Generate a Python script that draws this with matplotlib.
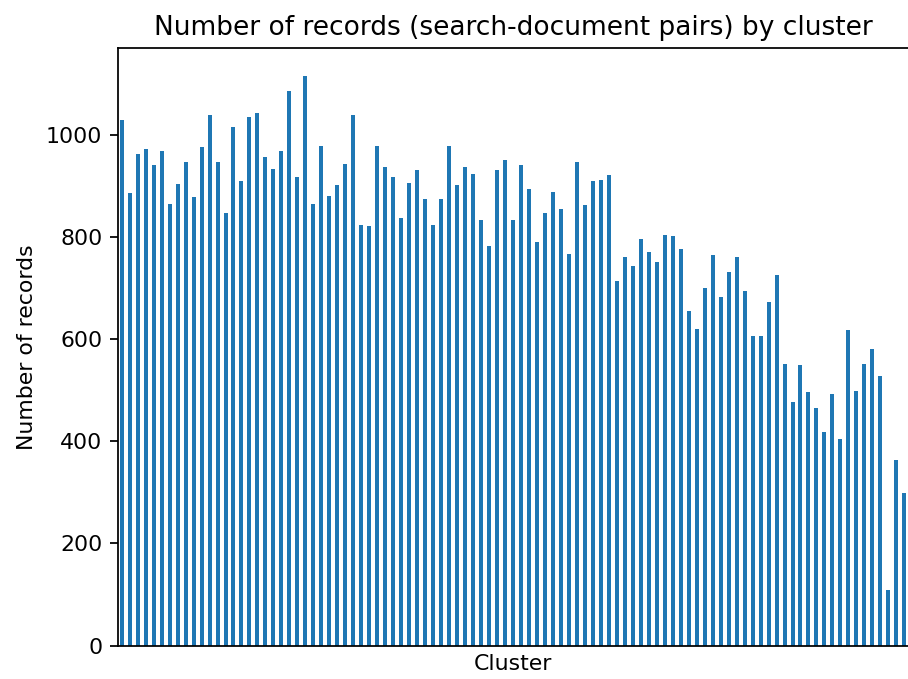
import matplotlib
matplotlib.use("Agg")
import matplotlib.pyplot as plt
import numpy as np

counts = [1029, 886, 962, 972, 941, 969, 864, 903, 947, 878,
          975, 1038, 947, 846, 1016, 909, 1035, 1042, 956, 932,
          969, 1085, 918, 1114, 864, 978, 880, 902, 943, 1038,
          823, 821, 978, 937, 918, 836, 906, 931, 874, 823,
          874, 978, 902, 937, 924, 833, 782, 931, 950, 833,
          941, 893, 789, 846, 887, 855, 767, 947, 862, 909,
          912, 921, 713, 761, 742, 796, 770, 751, 804, 801,
          777, 654, 619, 700, 764, 682, 732, 761, 694, 606,
          606, 672, 726, 552, 477, 549, 496, 464, 417, 493,
          404, 618, 499, 552, 581, 527, 108, 364, 298]
clusters = list(range(len(counts)))

title = "Number of records (search-document pairs) by cluster"
xlabel = "Cluster"
ylabel = "Number of records"

dpi = 158
fig = plt.figure(figsize=(909 / dpi, 679 / dpi), dpi=dpi)
ax = fig.add_axes([117.7 / 909, 33.5 / 679, 790.6 / 909, 597.5 / 679])
ax.bar(clusters, counts, width=0.5, color="#1f77b4")
ax.set_xlim(-0.5, len(counts) - 0.5)
ax.set_xticks([])
ax.spines["right"].set_visible(False)
ax.set_title(title)
ax.set_xlabel(xlabel)
ax.set_ylabel(ylabel)
fig.savefig("out.png", dpi=dpi)
